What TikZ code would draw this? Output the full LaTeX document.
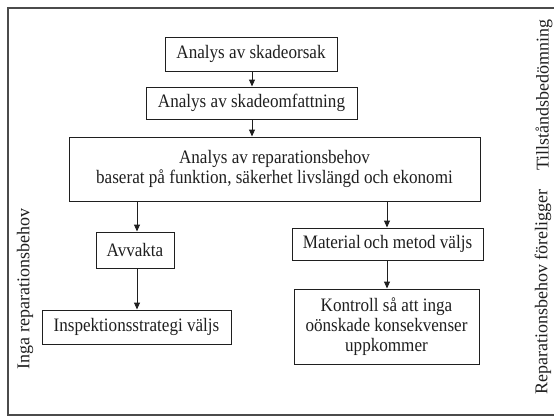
\documentclass[tikz,border=0pt]{standalone}
\usepackage{fontspec}
\setmainfont{Liberation Serif}[FakeStretch=0.9]
\newfontfamily\rotfont{Liberation Serif}
\usetikzlibrary{arrows.meta}
\definecolor{ink}{gray}{0.12}
\tikzset{
  stepbox/.style={draw=ink, line width=1pt, rectangle, inner sep=0pt, align=center, text=ink,
    font=\fontsize{19}{20}\selectfont},
  arr/.style={draw=ink, line width=1pt, -{Triangle[length=7pt,width=6pt]}},
  sidelabel/.style={rotate=90, text=ink, font=\rotfont\fontsize{18}{20}\selectfont},
  frame/.style={draw=ink!80, line width=1.3pt}
}
\begin{document}
\begin{tikzpicture}[x=1pt,y=-1pt]
\useasboundingbox (0,0) rectangle (554,416);
\coordinate (ftr) at (554,8);
\coordinate (ftl) at (8,8);
\coordinate (fbl) at (8,415);
\coordinate (fbr) at (554,415);
\draw[frame] (ftr) -- (ftl) -- (fbl) -- (fbr);

\node[stepbox, minimum width=172pt, minimum height=34pt] (b1) at (251,54) {Analys av skadeorsak};
\node[stepbox, minimum width=211pt, minimum height=32pt] (b2) at (251.5,103) {Analys av skadeomfattning};
\node[stepbox, minimum width=411pt, minimum height=64pt] (b3) at (274.5,169) {Analys av reparationsbehov\\baserat på funktion, säkerhet livslängd och ekonomi};
\node[stepbox, minimum width=78pt, minimum height=36pt] (av) at (135,250) {Avvakta};
\node[stepbox, minimum width=191pt, minimum height=32pt] (mm) at (387.5,244) {Material\,och metod väljs};
\node[stepbox, minimum width=189pt, minimum height=34pt] (ins) at (136.5,327) {Inspektionsstrategi väljs};
\node[stepbox, minimum width=185pt, minimum height=75pt] (ko) at (386.5,326.5) {Kontroll så att inga\\oönskade konsekvenser\\uppkommer};

\coordinate (a1) at (252,0);
\coordinate (a2) at (137,0);
\coordinate (a3) at (387,0);
\draw[arr] (b1.south -| a1) -- (b2.north -| a1);
\draw[arr] (b2.south -| a1) -- (b3.north -| a1);
\draw[arr] (b3.south -| a2) -- (av.north -| a2);
\draw[arr] (av.south -| a2) -- (ins.north -| a2);
\draw[arr] (b3.south -| a3) -- (mm.north -| a3);
\draw[arr] (mm.south -| a3) -- (ko.north -| a3);

\node[sidelabel] (l1) at (544,95) {Tillståndsbedömning};
\node[sidelabel] (l2) at (543,292) {Reparationsbehov föreligger};
\node[sidelabel] (l3) at (25,289) {Inga reparationsbehov};
\end{tikzpicture}
\end{document}
